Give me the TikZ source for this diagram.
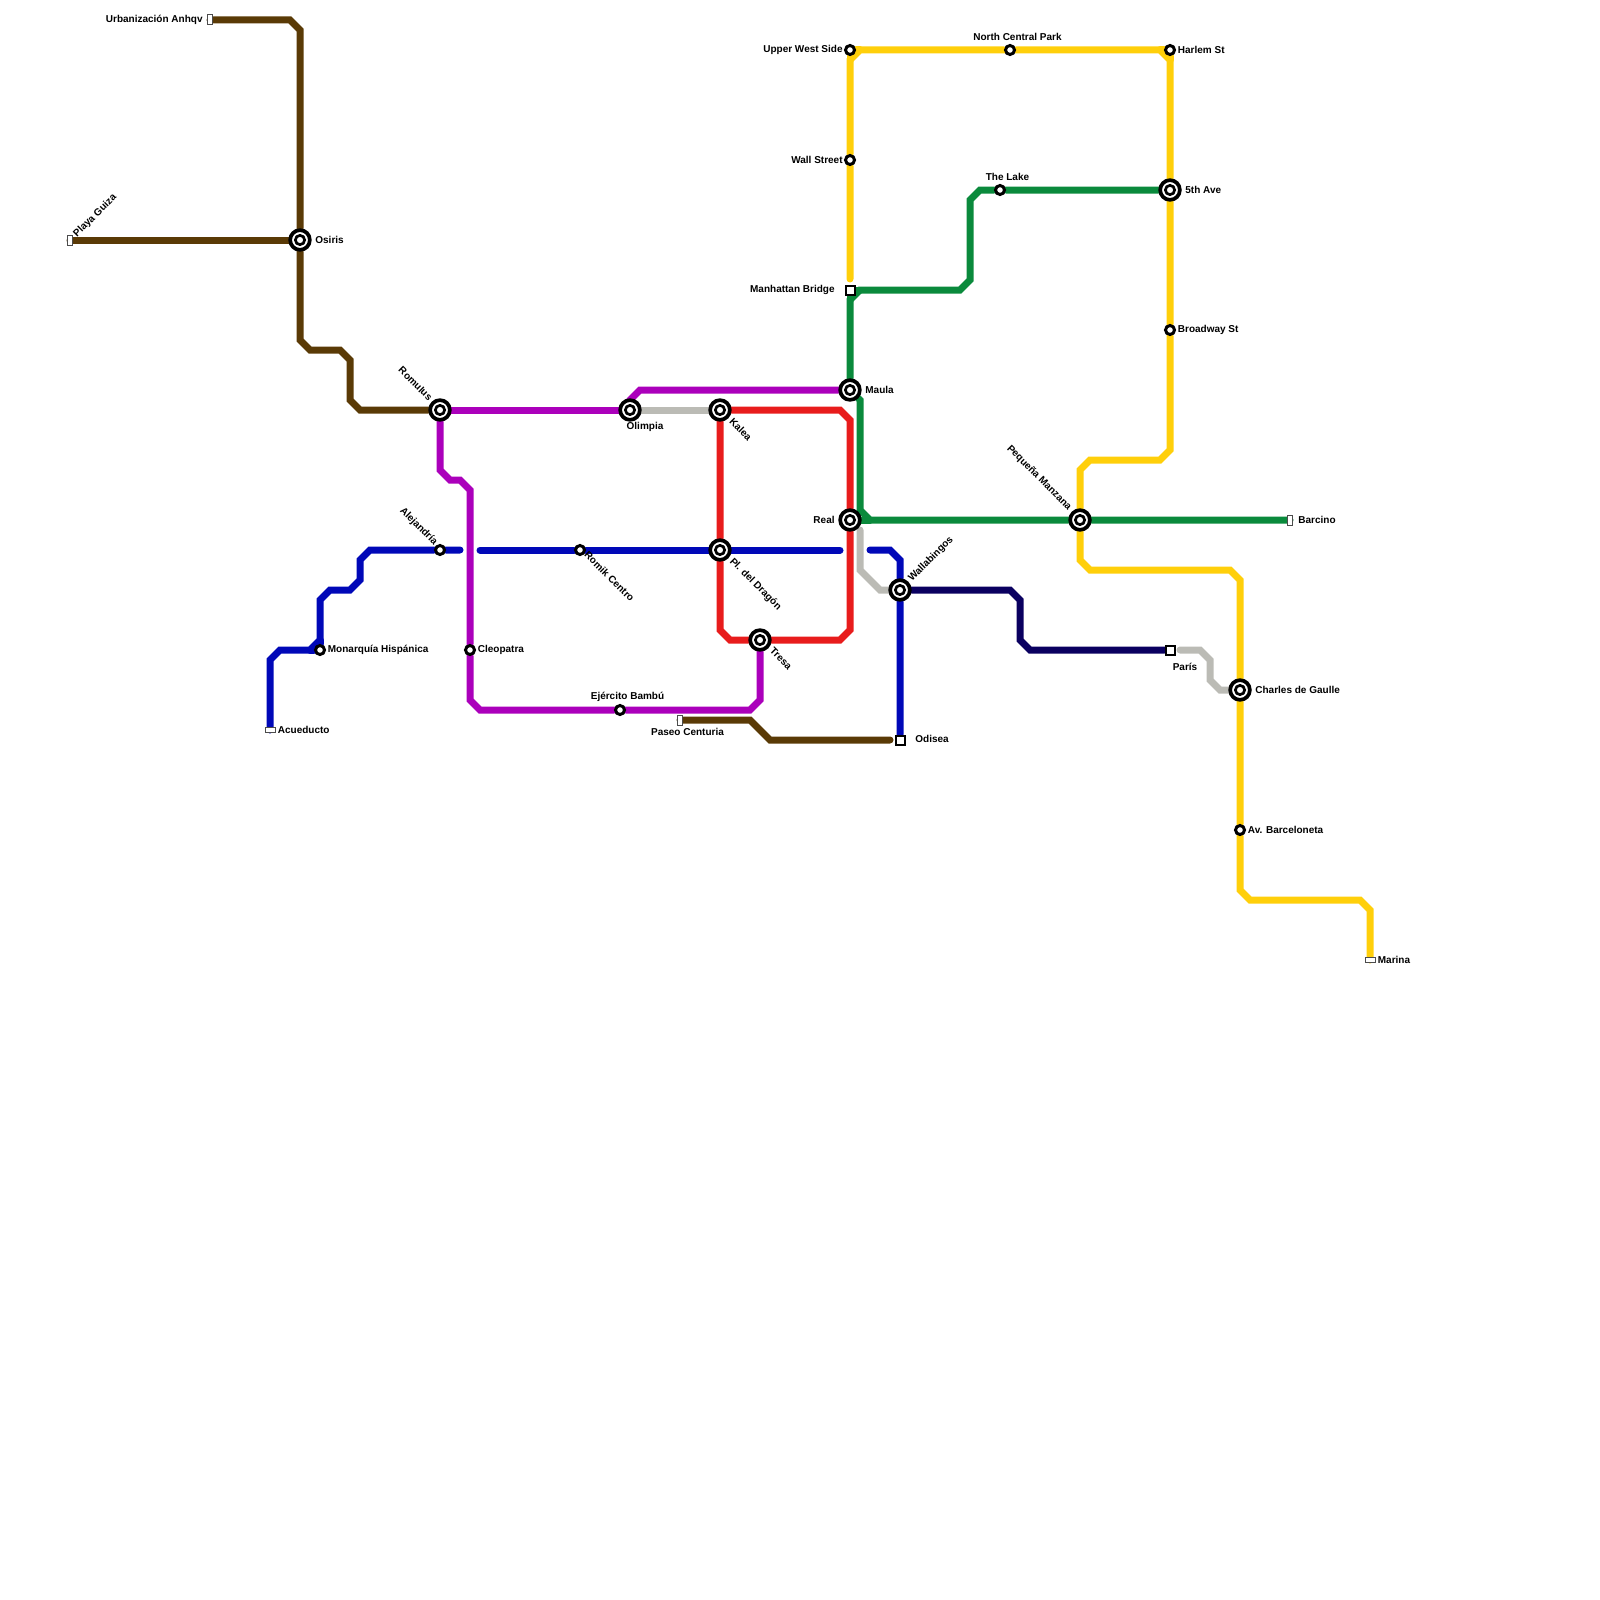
\documentclass[tikz,border=0pt]{standalone}
\usepackage{fontspec}
\setmainfont{Liberation Sans}
\usetikzlibrary{positioning}
\definecolor{brownline}{HTML}{5A3A06}
\definecolor{purpleline}{HTML}{AB00BB}
\definecolor{greyline}{HTML}{BBBBB5}
\definecolor{redline}{HTML}{E81C1C}
\definecolor{blueline}{HTML}{0008B8}
\definecolor{navyline}{HTML}{0A0060}
\definecolor{greenline}{HTML}{0A8A3C}
\definecolor{yellowline}{HTML}{FFCF0A}
\pgfdeclarelayer{lines}
\pgfsetlayers{lines,main}
\begin{document}
\begin{tikzpicture}[
    x=0.5pt, y=-0.5pt,
    font=\fontsize{5}{6}\selectfont\bfseries,
    route/.style={line width=3.5pt, line cap=round},
    interchange/.style={circle, draw=black, fill=white, line width=1.85pt, inner sep=0pt, minimum size=9.85pt,
      path picture={\draw[black, line width=1.35pt] (path picture bounding box.center) circle (2.32pt);}},
    halt/.style={circle, draw=black, fill=white, line width=1.5pt, inner sep=0pt, minimum size=4.5pt},
    squarestop/.style={rectangle, draw=black, fill=white, line width=1pt, inner sep=0pt, minimum size=4.5pt},
    endv/.style={rectangle, draw=black!70, fill=white, line width=0.5pt, inner sep=0pt, minimum width=2.3pt, minimum height=5pt},
    endh/.style={rectangle, draw=black!70, fill=white, line width=0.5pt, inner sep=0pt, minimum width=5pt, minimum height=2.3pt},
    lbl/.style={inner sep=0pt, text=black},
    lblr/.style={lbl, anchor=west},
    lbll/.style={lbl, anchor=east},
    lblup/.style={lbl, anchor=west, rotate=45},
    lbldn/.style={lbl, anchor=west, rotate=-45},
    lblback/.style={lbl, anchor=east, rotate=-45}
  ]
    \useasboundingbox (0,0) rectangle (1600,1600);

    \node[endv] (urbanizacion) at (210,20) {};
    \node[endv] (playa) at (70,240) {};
    \node[interchange] (osiris) at (300,240) {};
    \node[interchange] (romulus) at (440,410) {};
    \node[interchange] (olimpia) at (630,410) {};
    \node[interchange] (kalea) at (720,410) {};
    \node[interchange] (maula) at (850,390) {};
    \node[interchange] (real) at (850,520) {};
    \node[interchange] (dragon) at (720,550) {};
    \node[interchange] (tresa) at (760,640) {};
    \node[interchange] (wallabingos) at (900,590) {};
    \node[interchange] (manzana) at (1080,520) {};
    \node[interchange] (fifth) at (1170,190) {};
    \node[interchange] (gaulle) at (1240,690) {};
    \node[halt] (alejandria) at (440,550) {};
    \node[halt] (romik) at (580,550) {};
    \node[halt] (monarquia) at (320,650) {};
    \node[halt] (cleopatra) at (470,650) {};
    \node[halt] (bambu) at (620,710) {};
    \node[halt] (uws) at (850,50) {};
    \node[halt] (wallst) at (850,160) {};
    \node[halt] (centralpark) at (1010,50) {};
    \node[halt] (harlem) at (1170,50) {};
    \node[halt] (lake) at (1000,190) {};
    \node[halt] (broadway) at (1170,330) {};
    \node[halt] (barceloneta) at (1240,830) {};
    \node[squarestop] (bridge) at (850,290) {};
    \node[squarestop] (odisea) at (900,740) {};
    \node[squarestop] (paris) at (1170,650) {};
    \node[endv] (centuria) at (680,720) {};
    \node[endv] (barcino) at (1290,520) {};
    \node[endh] (acueducto) at (270,730) {};
    \node[endh] (marina) at (1370,960) {};

    \coordinate (bluegapw) at (460,550);
    \coordinate (bluegape) at (480,550);
    \coordinate (bluerealw) at (840,550);
    \coordinate (bluereale) at (870,550);
    \coordinate (brownend) at (890,740);
    \coordinate (yellowend) at (850,279);
    \coordinate (greystart) at (1180,650);
    \coordinate (greyreal) at (860,530);

    \node[lbll] (urbanizacion-l) at (203,20) {Urbanización Anhqv};
    \node[lblup] (playa-l) at (75,236) {Playa Guiza};
    \node[lblr] (osiris-l) at (315,240) {Osiris};
    \node[lblback] (romulus-l) at (431,399) {Romulus};
    \node[lbl] (olimpia-l) at (645,427) {Olimpia};
    \node[lbldn] (kalea-l) at (731,420) {Kalea};
    \node[lblr] (maula-l) at (865,390) {Maula};
    \node[lbll] (real-l) at (835,520) {Real};
    \node[lbldn] (dragon-l) at (731,560) {Pl. del Dragón};
    \node[lbldn] (tresa-l) at (771.5,649) {Tresa};
    \node[lblup] (wallabingos-l) at (910,580) {Wallabingos};
    \node[lbl] (bambu-l) at (627.5,697) {Ejército Bambú};
    \node[lbl] (centuria-l) at (687.5,732) {Paseo Centuria};
    \node[lblr] (odisea-l) at (915,739) {Odisea};
    \node[lblback] (alejandria-l) at (436,544) {Alejandría};
    \node[lbldn] (romik-l) at (586,553) {Romik Centro};
    \node[lblr] (monarquia-l) at (327.5,650) {Monarquía Hispánica};
    \node[lblr] (cleopatra-l) at (477.5,650) {Cleopatra};
    \node[lblr] (acueducto-l) at (277.5,730) {Acueducto};
    \node[lbll] (uws-l) at (843,50) {Upper West Side};
    \node[lbll] (wallst-l) at (843,160) {Wall Street};
    \node[lbll] (bridge-l) at (835,290) {Manhattan Bridge};
    \node[lbl] (centralpark-l) at (1017.5,36.5) {North Central Park};
    \node[lbl] (lake-l) at (1007.5,177) {The Lake};
    \node[lblr] (harlem-l) at (1177.5,49.5) {Harlem St};
    \node[lblr] (fifth-l) at (1185,189.5) {5th Ave};
    \node[lblr] (broadway-l) at (1177.5,330) {Broadway St};
    \node[lblback] (manzana-l) at (1070,509) {Pequeña Manzana};
    \node[lblr] (barcino-l) at (1298,519.5) {Barcino};
    \node[lbl] (paris-l) at (1185,667) {París};
    \node[lblr] (gaulle-l) at (1255,689.5) {Charles de Gaulle};
    \node[lblr] (barceloneta-l) at (1247.5,829.5) {Av. Barceloneta};
    \node[lblr] (marina-l) at (1377.5,959.5) {Marina};

    \begin{pgfonlayer}{lines}
    \draw[route, greyline] (olimpia) -- (kalea);
    \draw[route, greyline] (greyreal) -- (860,570) -- (880,590) -- (wallabingos);
    \draw[route, greyline] (greystart) -- (1200,650) -- (1210,660) -- (1210,680) -- (1220,690) -- (gaulle);
    \draw[route, brownline] (urbanizacion.center) -- (290,20) -- (300,30) -- (osiris);
    \draw[route, brownline] (playa.center) -- (osiris);
    \draw[route, brownline] (osiris) -- (300,340) -- (310,350) -- (340,350) -- (350,360) -- (350,400) -- (360,410) -- (romulus);
    \draw[route, brownline] (centuria.center) -- (750,720) -- (770,740) -- (brownend);
    \draw[route, purpleline] (romulus) -- (olimpia);
    \draw[route, purpleline] (olimpia.center) -- (630,400) -- (640,390) -- (maula);
    \draw[route, purpleline] (romulus) -- (440,470) -- (450,480) -- (460,480) -- (470,490) -- (cleopatra) -- (470,700) -- (480,710) -- (bambu) -- (750,710) -- (760,700) -- (tresa);
    \draw[route, redline] (kalea) -- (840,410) -- (850,420) -- (real) -- (850,630) -- (840,640) -- (tresa) -- (730,640) -- (720,630) -- (dragon) -- (kalea);
    \draw[route, blueline] (acueducto.center) -- (270,660) -- (280,650) -- (310,650) -- (320,640) -- (320,600) -- (330,590) -- (350,590) -- (360,580) -- (360,560) -- (370,550) -- (alejandria) -- (bluegapw);
    \draw[route, blueline] (monarquia) -- (310,650);
    \draw[route, blueline] (monarquia) -- (320,640);
    \draw[route, blueline] (bluegape) -- (romik) -- (dragon) -- (bluerealw);
    \draw[route, blueline] (bluereale) -- (890,550) -- (900,560) -- (wallabingos) -- (odisea);
    \draw[route, navyline] (wallabingos) -- (1010,590) -- (1020,600) -- (1020,640) -- (1030,650) -- (paris);
    \draw[route, greenline] (maula) -- (850,300) -- (860,290) -- (960,290) -- (970,280) -- (970,200) -- (980,190) -- (lake) -- (fifth);
    \draw[route, greenline] (bridge) -- (850,300);
    \draw[route, greenline] (bridge) -- (860,290);
    \draw[route, greenline] (maula) -- (860,400) -- (860,510) -- (870,520) -- (manzana) -- (barcino.center);
    \draw[route, greenline] (real) -- (870,520);
    \draw[route, yellowline] (yellowend) -- (wallst) -- (850,60) -- (860,50) -- (centralpark) -- (1160,50) -- (1170,60) -- (fifth) -- (broadway) -- (1170,450) -- (1160,460) -- (1090,460) -- (1080,470) -- (manzana) -- (1080,560) -- (1090,570) -- (1230,570) -- (1240,580) -- (gaulle) -- (barceloneta) -- (1240,890) -- (1250,900) -- (1360,900) -- (1370,910) -- (marina.center);
    \draw[route, yellowline] (uws) -- (850,60);
    \draw[route, yellowline] (uws) -- (860,50);
    \draw[route, yellowline] (harlem) -- (1160,50);
    \draw[route, yellowline] (harlem) -- (1170,60);
    \end{pgfonlayer}
\end{tikzpicture}
\end{document}
